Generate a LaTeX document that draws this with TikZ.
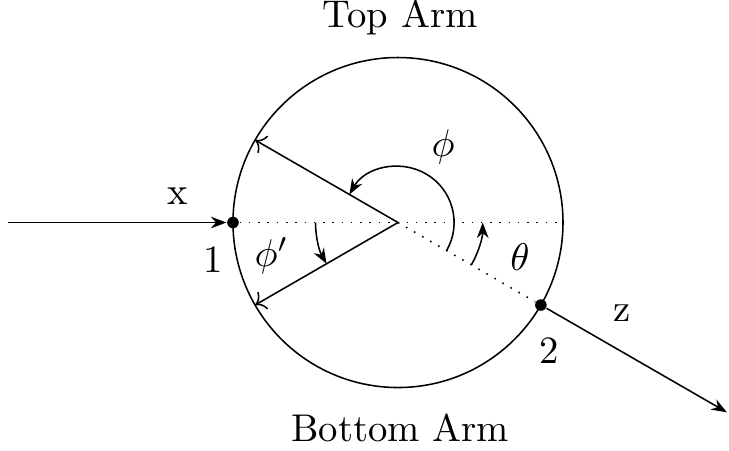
\documentclass[tikz,border=0pt]{standalone}
\usetikzlibrary{positioning, arrows.meta}

\begin{document}
\begin{tikzpicture}[
  port/.style={
    circle,
    fill,
    inner sep=0pt,
    minimum size=3pt
  },
  armtext/.style={
    inner sep=1pt
  },
  >={Stealth[length=4pt]}
]

\useasboundingbox (-3.618,-2.068) rectangle (3.009,2.023);

% Ring
\coordinate (Center) at (0,0);
\draw (Center) circle (1.5);

% Ports
\node[port] (PortOne) at (180:1.5) {};
\node[port] (PortTwo) at (-30:1.5) {};
\coordinate (RingRight) at (0:1.5);
\coordinate (TopEnd) at (150:1.5);
\coordinate (BottomEnd) at (210:1.5);
\coordinate (Source) at (-3.545,0);
\coordinate (Sink) at (2.99,-1.725);

% Feed lines
\draw[->] (Source) -- (PortOne);
\draw[->] (PortTwo) -- (Sink);

% Reference lines
\draw[dotted] (PortOne) -- (RingRight);
\draw[dotted] (Center) -- (PortTwo);

% Arms
\draw[-To] (Center) -- (TopEnd);
\draw[-To] (Center) -- (BottomEnd);

% Angles
\draw[->] (-30:0.51) arc (-30:150:0.51);
\draw[->] (180:0.75) arc (180:210:0.75);
\draw[->] (-30:0.77) arc (-30:0:0.77);

% Labels
\node[armtext] (TopArm) at (0.02,1.86) {Top Arm};
\node[armtext] (BottomArm) at (0.02,-1.87) {Bottom Arm};
\node[armtext] (LabelX) at (-2.0,0.24) {x};
\node[armtext] (LabelZ) at (2.04,-0.82) {z};
\node[armtext] (LabelOne) at (-1.68,-0.34) {1};
\node[armtext] (LabelTwo) at (1.37,-1.16) {2};
\node[armtext] (LabelPhi) at (0.41,0.69) {$\phi$};
\node[armtext] (LabelPhiPrime) at (-1.15,-0.3) {$\phi'$};
\node[armtext] (LabelTheta) at (1.11,-0.31) {$\theta$};

\end{tikzpicture}
\end{document}
